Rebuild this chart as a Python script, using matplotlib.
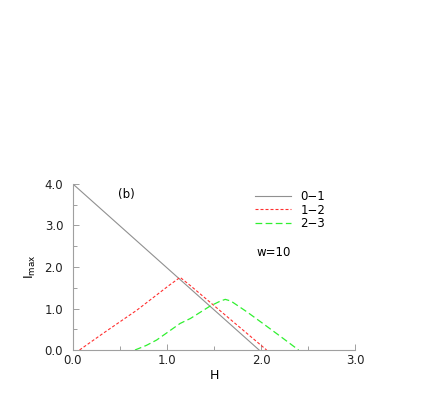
import matplotlib
matplotlib.use("Agg")
import matplotlib.pyplot as plt
from matplotlib.ticker import MultipleLocator, FormatStrFormatter

plt.rcParams['font.family'] = ['DejaVu Sans']

# transitions
h_01 = [0.0, 1.98]
i_01 = [4.0, 0.0]

h_12 = [0.07, 0.32, 0.68, 1.03, 1.14, 1.25, 1.60, 2.06]
i_12 = [0.0, 0.40, 0.96, 1.57, 1.75, 1.55, 0.88, 0.0]

h_23 = [0.66, 0.78, 0.89, 1.14, 1.25, 1.46, 1.56, 1.62, 1.68, 1.85, 2.02, 2.20, 2.40]
i_23 = [0.0, 0.11, 0.24, 0.64, 0.76, 1.06, 1.17, 1.22, 1.18, 0.92, 0.64, 0.34, 0.0]

labels = ['0\u22121', '1\u22122', '2\u22123']

fig = plt.figure(figsize=(4.29, 3.95), dpi=100)
ax = fig.add_axes([0.170, 0.1139, 0.6575, 0.4203])

ax.plot(h_01, i_01, color='#909090', lw=0.8, label=labels[0])
ax.plot(h_12, i_12, color='#ff3030', lw=0.8, dashes=(2.7, 1.8), label=labels[1])
ax.plot(h_23, i_23, color='#30f030', lw=0.9, dashes=(5.4, 2.7), label=labels[2])

ax.set_xlim(0, 3)
ax.set_ylim(0, 4)
ax.xaxis.set_major_locator(MultipleLocator(1.0))
ax.xaxis.set_minor_locator(MultipleLocator(0.5))
ax.yaxis.set_major_locator(MultipleLocator(1.0))
ax.yaxis.set_minor_locator(MultipleLocator(0.5))
ax.xaxis.set_major_formatter(FormatStrFormatter('%.1f'))
ax.yaxis.set_major_formatter(FormatStrFormatter('%.1f'))

for s in ['top', 'right']:
    ax.spines[s].set_visible(False)
for s in ['left', 'bottom']:
    ax.spines[s].set_color('#a0a0a0')
    ax.spines[s].set_linewidth(0.8)

ax.tick_params(which='both', direction='in', color='#a0a0a0', width=0.7,
               labelsize=8.5, labelcolor='#202020')
ax.tick_params(which='major', length=4)
ax.tick_params(which='minor', length=3)
ax.tick_params(axis='x', pad=3)
ax.tick_params(axis='y', pad=7)

ax.set_xlabel('H', fontsize=9, labelpad=1)
ax.set_ylabel(r'I$_{\mathregular{max}}$', fontsize=9, labelpad=5)

ax.text(0.188, 0.934, '(b)', transform=ax.transAxes, fontsize=8.5,
        ha='center', va='center')
ax.text(0.652, 0.59, 'w=10', transform=ax.transAxes, fontsize=8.5,
        ha='left', va='center')

ax.legend(loc='upper left', bbox_to_anchor=(0.645, 0.962), frameon=False,
          fontsize=8.5, handlelength=3.1, handletextpad=0.75,
          labelspacing=0.02, borderpad=0, borderaxespad=0)

fig.savefig('out.png', dpi=100)
